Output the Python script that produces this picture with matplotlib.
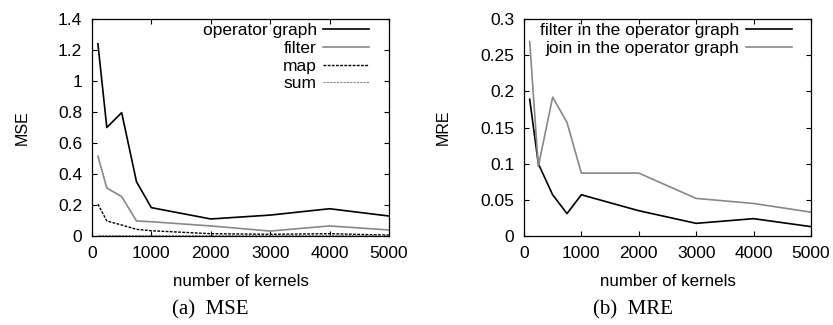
#!/usr/bin/env python3

import matplotlib
matplotlib.use("Agg")
import matplotlib.pyplot as plt

kernels = [100, 250, 500, 750, 1000, 2000, 3000, 4000, 5000]

mse_operator_graph = [1.24, 0.70, 0.796, 0.35, 0.183, 0.11, 0.135, 0.176, 0.129]
mse_filter = [0.516, 0.31, 0.254, 0.097, 0.092, 0.065, 0.032, 0.065, 0.039]
mse_map = [0.206, 0.097, 0.071, 0.043, 0.034, 0.015, 0.011, 0.015, 0.006]
mse_sum = [0.004, 0.004, 0.004, 0.004, 0.004, 0.004, 0.004, 0.004, 0.004]

mre_filter = [0.189, 0.10, 0.057, 0.031, 0.057, 0.035, 0.0175, 0.024, 0.013]
mre_join = [0.269, 0.096, 0.192, 0.157, 0.087, 0.087, 0.052, 0.045, 0.033]

GRAY = "#888888"
FS = 12.5

plt.rcParams["font.family"] = ["Liberation Sans", "DejaVu Sans"]
plt.rcParams["font.size"] = FS


def _style_axes(ax, ylim, yticks, yticklabels, ylabel, ylabel_x):
    ax.set_xlim(0, 5000)
    ax.set_xticks([0, 1000, 2000, 3000, 4000, 5000])
    ax.set_ylim(*ylim)
    ax.set_yticks(yticks)
    ax.set_yticklabels(yticklabels)
    ax.tick_params(direction="in", top=True, right=True, length=3.5,
                   width=0.8, labelsize=FS, pad=7)
    for sp in ax.spines.values():
        sp.set_linewidth(0.9)
    ax.set_xlabel("number of kernels", fontsize=12.2)
    ax.xaxis.label.set_va("center")
    ax.xaxis.set_label_coords(0.5, -45 / 217)
    ax.set_ylabel(ylabel, fontsize=11.5)
    ax.yaxis.label.set_va("center")
    ax.yaxis.set_label_coords(ylabel_x, 0.5)


def _legend(ax):
    ax.legend(loc="upper right", bbox_to_anchor=(1 - 20 / 297, 1 - 4 / 217),
              frameon=False, markerfirst=False, borderaxespad=0, borderpad=0,
              handlelength=2.65, handletextpad=0.35, labelspacing=0.15,
              fontsize=FS)


def _main():
    fig = plt.figure(figsize=(8.33, 3.25), dpi=100)

    ax1 = fig.add_axes([0.1104, 0.2738, 0.3565, 0.6677])
    ax1.plot(kernels, mse_operator_graph, color="black", lw=1.2,
             label="operator graph")
    ax1.plot(kernels, mse_filter, color=GRAY, lw=1.2, label="filter")
    ax1.plot(kernels, mse_map, color="black", lw=1.0,
             linestyle=(0, (2, 1)), label="map")
    ax1.plot(kernels, mse_sum, color=GRAY, lw=0.8,
             linestyle=(0, (2, 1)), label="sum")
    _style_axes(ax1, (0, 1.4),
                [0, 0.2, 0.4, 0.6, 0.8, 1.0, 1.2, 1.4],
                ["0", "0.2", "0.4", "0.6", "0.8", "1", "1.2", "1.4"], "MSE",
                -70 / 297)
    _legend(ax1)

    ax2 = fig.add_axes([0.629, 0.2738, 0.3445, 0.6677])
    ax2.plot(kernels, mre_filter, color="black", lw=1.2,
             label="filter in the operator graph")
    ax2.plot(kernels, mre_join, color=GRAY, lw=1.2,
             label="join in the operator graph")
    _style_axes(ax2, (0, 0.3),
                [0, 0.05, 0.1, 0.15, 0.2, 0.25, 0.3],
                ["0", "0.05", "0.1", "0.15", "0.2", "0.25", "0.3"], "MRE",
                -80.5 / 287)
    _legend(ax2)

    serif = ["Liberation Serif", "DejaVu Serif"]
    fig.text(0.253, 0.046, "(a)  MSE", ha="center", va="center",
             family=serif, fontsize=15)
    fig.text(0.760, 0.046, "(b)  MRE", ha="center", va="center",
             family=serif, fontsize=15)

    fig.savefig("out.png", dpi=100)


if __name__ == "__main__":
    _main()
